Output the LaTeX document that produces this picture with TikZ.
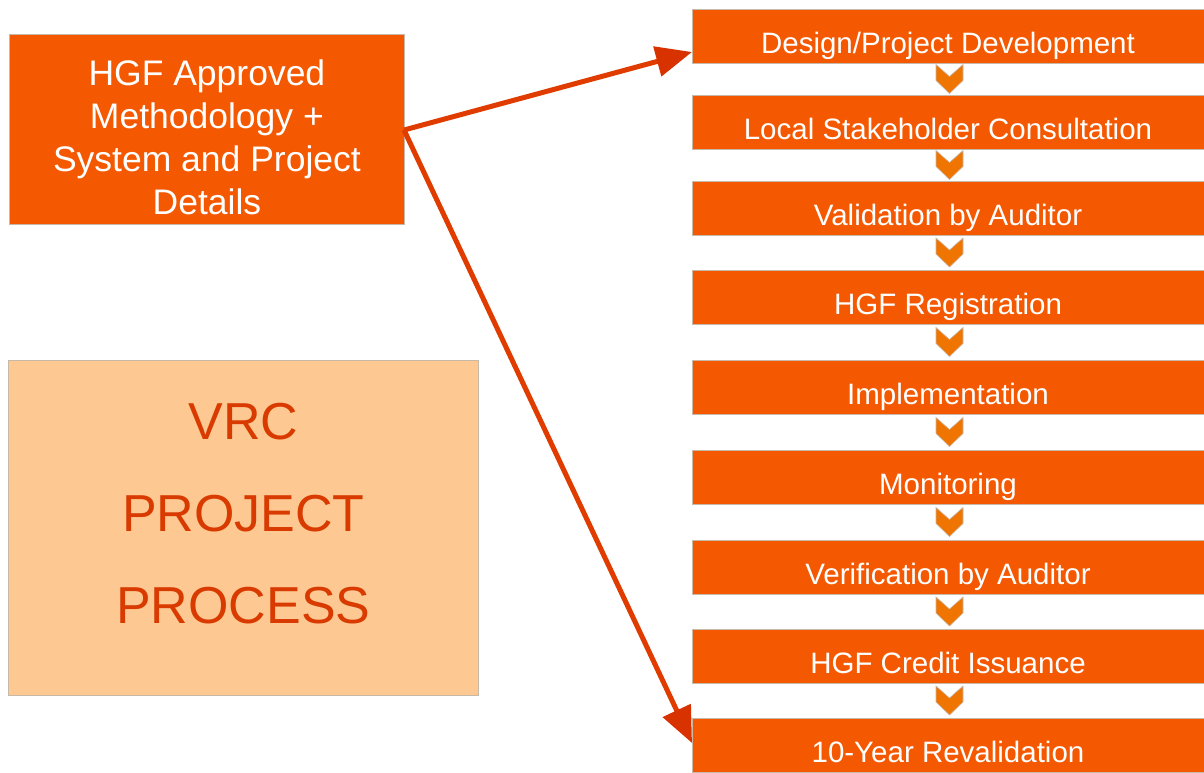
\documentclass[tikz,border=0pt]{standalone}
\usepackage{fontspec}
\setmainfont{Liberation Sans}
\usetikzlibrary{arrows.meta}
\definecolor{boxor}{HTML}{F45800}
\definecolor{chev}{HTML}{F07400}
\definecolor{pale}{HTML}{FDC891}
\definecolor{vrctext}{HTML}{D83A00}
\definecolor{arr}{HTML}{E03C00}
\definecolor{arrhead}{HTML}{D83200}
\definecolor{edge}{HTML}{C8B8A8}
\tikzset{
  stepbox/.style={rectangle, fill=boxor, draw=edge, line width=0.8pt, minimum width=512pt, minimum height=54pt, inner sep=0pt},
  steptext/.style={text=white, font=\fontsize{29.5}{32}\selectfont, inner sep=0pt, anchor=base},
  chevron/.style={fill=chev, draw=edge, line width=0.6pt},
  bigarrow/.style={draw=arr, line width=5pt, -{Triangle[length=36pt,width=30pt,color=arrhead]}}
}
\begin{document}
\begin{tikzpicture}[x=1pt,y=-1pt]
\useasboundingbox (0,0) rectangle (1204,772);
\fill[white] (0,0) rectangle (1204,772);
% left boxes
\node[rectangle, fill=boxor, draw=edge, line width=0.8pt, minimum width=395pt, minimum height=190pt, inner sep=0pt, anchor=north west] (src) at (9,34) {};
\node[text=white, align=center, font=\fontsize{35.5}{43}\selectfont, inner sep=0pt] (srctext) at ([yshift=-8pt]src.center)
  {HGF Approved\\Methodology +\\System and Project\\Details};
\node[rectangle, fill=pale, draw=edge, line width=0.8pt, minimum width=470pt, minimum height=335pt, inner sep=0pt, anchor=north west] (vrc) at (8,360) {};
\node[text=vrctext, align=center, font=\fontsize{52}{92}\selectfont, inner sep=0pt] (vrctext) at ([yshift=14pt]vrc.center)
  {VRC\\PROJECT\\PROCESS};
% right steps
\foreach \n/\t/\y in {1/Design\slash Project Development/36,2/Local Stakeholder Consultation/122,3/Validation by Auditor/208,4/HGF Registration/297,5/Implementation/387,6/Monitoring/477,7/Verification by Auditor/567,8/HGF Credit Issuance/656,9/10-Year Revalidation/745}{
  \node[stepbox] (s\n) at (948,\y) {};
  \node[steptext] (t\n) at (948,\y+17.5) {\t};
}
% chevrons
\foreach \m in {79,165,252.5,342,432,522,611.5,700.5}{
  \draw[chevron] (936,\m-14.5) -- (949.5,\m-2.5) -- (963,\m-14.5)
    -- (963,\m+1.5) -- (949.5,\m+14.5) -- (936,\m+1.5) -- cycle;
}
% arrows
\coordinate (a1) at (692,52);
\coordinate (a2) at (692,743);
\coordinate (o) at (404,130);
\draw[bigarrow] (o) -- (a1);
\draw[bigarrow] (o) -- (a2);
\end{tikzpicture}
\end{document}
